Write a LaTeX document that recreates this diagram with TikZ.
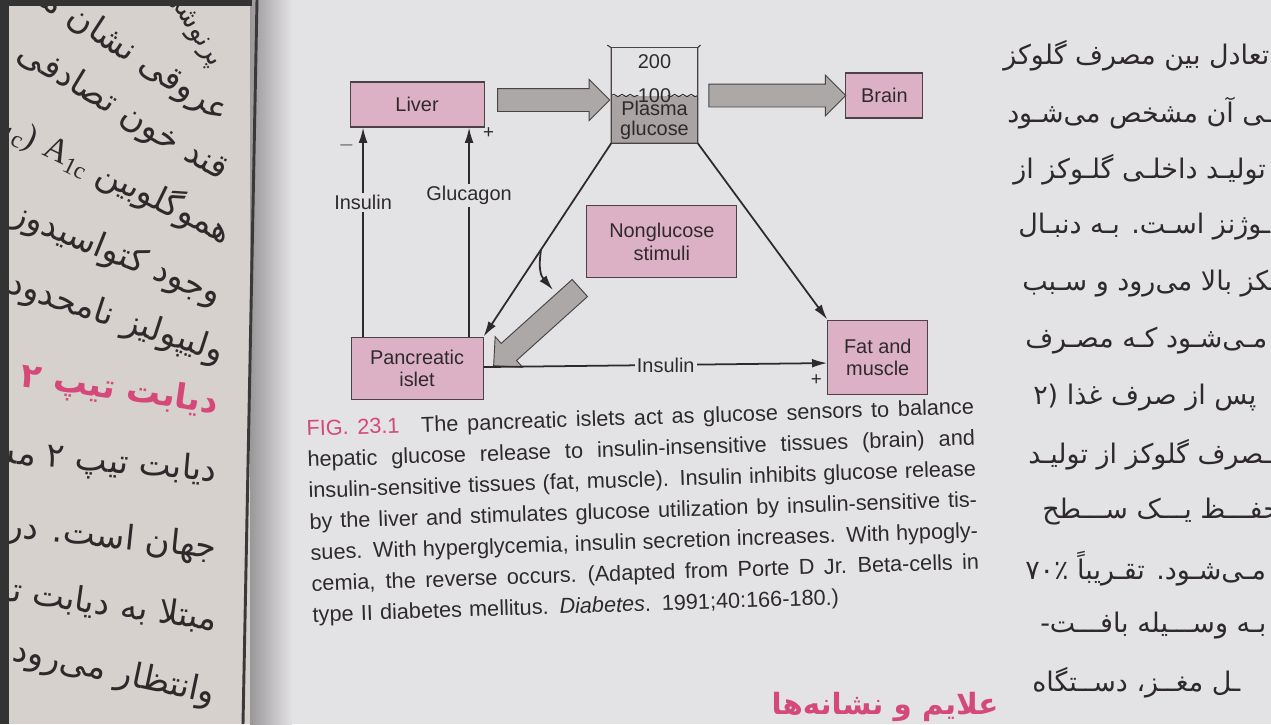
\documentclass[tikz,border=0pt]{standalone}
\usepackage{fontspec}
\setmainfont{Liberation Sans}
\newfontfamily\arabicfont[Script=Arabic]{DejaVu Sans}
\newfontfamily\seriffont{Liberation Serif}
\TeXXeTstate=1
\usetikzlibrary{shapes.arrows,arrows.meta,positioning,calc,decorations.pathmorphing}

\definecolor{pagebg}{HTML}{E3E2E4}
\definecolor{leftpage}{HTML}{D6D1CD}
\definecolor{gutterdark}{HTML}{9A9799}
\definecolor{gutterline}{HTML}{3A3838}
\definecolor{pinkbox}{HTML}{DDB1C5}
\definecolor{boxline}{HTML}{4A4244}
\definecolor{arrowgray}{HTML}{ADA8A8}
\definecolor{liquid}{HTML}{A9A3A3}
\definecolor{ink}{HTML}{2E2A2B}
\definecolor{figpink}{HTML}{D4497A}

% one justified caption line
\newcommand{\figline}[1]{\leavevmode\hbox to 570pt{\spaceskip=0.28em plus 1fil\relax #1}}

\begin{document}
\begin{tikzpicture}[x=0.03cm, y=-0.03cm, font=\fontsize{17}{19}\selectfont, text=ink]
    % Define styles
    \tikzstyle{organ}=[rectangle, draw=boxline, line width=0.9pt, fill=pinkbox, align=center, inner sep=2pt]
    \tikzstyle{line}=[draw=ink, line width=1.5pt, -{Latex[length=13pt,width=7.5pt]}]
    \tikzstyle{flow}=[single arrow, draw=boxline, line width=0.8pt, fill=arrowgray, minimum width=1.2cm, single arrow head extend=0.27cm, single arrow tip angle=90, single arrow head indent=0pt, inner xsep=0pt, inner ysep=0.33cm]
    \tikzstyle{tag}=[fill=pagebg, inner sep=2pt]
    \tikzstyle{sign}=[inner sep=0pt, font=\fontsize{16}{16}\selectfont]
    \tikzstyle{farsi}=[anchor=west, inner sep=0pt, font=\arabicfont\fontsize{23}{23}\selectfont]
    \tikzstyle{oldpage}=[anchor=east, inner sep=0pt, font=\arabicfont\fontsize{29}{29}\selectfont]

    % Pages
    \useasboundingbox (0,0) rectangle (1271,724);
    \clip (0,0) rectangle (1271,724);
    \fill[pagebg] (0,0) rectangle (1271,724);
    \fill[leftpage] (0,0) rectangle (252,724);
    \shade[left color=gutterdark, right color=pagebg] (250,0) rectangle (292,724);
    \draw[gutterline, line width=2.5pt] (257,0) -- (243,724);
    \fill[black!80] (0,0) rectangle (9,724);
    \fill[black!80] (0,0) rectangle (252,6);

    % Left page
    \begin{scope}
        \clip (9,6) rectangle (246,724);
        \node[oldpage, rotate=-58, font=\arabicfont\fontsize{23}{23}\selectfont] (old1) at (216,66) {\beginR پرنوشی\endR};
        \node[oldpage, rotate=-33] (old2) at (226,116) {\beginR عروقی نشان می\endR};
        \node[oldpage, rotate=-31] (old3) at (225,174) {\beginR قند خون تصادفی\endR};
        \node[oldpage, rotate=-26] (old4) at (230,234) {\beginR هموگلوبین \beginL{\seriffont A\textsubscript{1c}}\endL{} \beginL{\seriffont (HbA\textsubscript{1c})}\endL\endR};
        \node[oldpage, rotate=-22] (old5) at (220,297) {\beginR وجود کتواسیدوز نشان\endR};
        \node[oldpage, rotate=-18] (old6) at (223,354) {\beginR ولیپولیز نامحدود است\endR};
        \node[oldpage, rotate=-8, text=figpink, font=\arabicfont\bfseries\fontsize{29}{29}\selectfont] (old7) at (218,405) {\beginR دیابت تیپ ۲\endR};
        \node[oldpage, rotate=-5] (old8) at (217,473) {\beginR دیابت تیپ ۲ مسئول\endR};
        \node[oldpage, rotate=-6] (old9) at (217,550) {\beginR جهان است. در سال\endR};
        \node[oldpage, rotate=-8] (old10) at (217,622) {\beginR مبتلا به دیابت تیپ\endR};
        \node[oldpage, rotate=-12] (old11) at (215,695) {\beginR وانتظار می‌رود ا\endR};
    \end{scope}

    % Diagram nodes
    \node[minimum width=2.58cm, minimum height=2.85cm, inner sep=0pt] (plasma) at (654.5,95.5) {};
    \node[organ, minimum width=4.02cm, minimum height=1.35cm, left=3.8cm of plasma, yshift=-0.27cm] (liver) {Liver};
    \node[organ, minimum width=2.31cm, minimum height=1.35cm, right=4.43cm of plasma] (brain) {Brain};
    \node[organ, minimum width=4.5cm, minimum height=2.16cm, below=1.86cm of plasma, xshift=0.22cm] (nonglucose) {Nonglucose\\stimuli};
    \node[organ, minimum width=3.96cm, minimum height=1.86cm, below=6.27cm of liver] (islet) {Pancreatic\\islet};
    \node[organ, minimum width=3.0cm, minimum height=2.22cm, below=6.03cm of brain, xshift=-0.2cm] (fat) {Fat and\\muscle};

    % Beaker
    \fill[liquid] (plasma.west) rectangle (plasma.south east);
    \draw[ink, line width=0.8pt, decorate, decoration={snake, amplitude=1pt, segment length=7pt}] (plasma.west) -- ++(27,0);
    \draw[ink, line width=0.8pt, decorate, decoration={snake, amplitude=1pt, segment length=7pt}] (plasma.east) -- ++(-30,0);
    \draw[boxline, line width=1pt] ([xshift=-0.12cm, yshift=0.08cm]plasma.north west) -- (plasma.north west) -- (plasma.south west) -- (plasma.south east) -- (plasma.north east) -- ([xshift=0.08cm, yshift=0.08cm]plasma.north east);
    \draw[boxline, line width=1pt] (plasma.north west) -- (plasma.north east);
    \node (scalehigh) at ([yshift=-0.42cm]plasma.north) {200};
    \node[inner sep=0pt] (scalelow) at (plasma.center) {100};
    \node[align=center, font=\fontsize{17}{17}\selectfont] (plasmalabel) at ([yshift=-0.74cm]plasma.center) {Plasma\\glucose};

    % Connections
    \path (liver.east) -- node[flow, minimum height=3.36cm] (hepaticflow) {} (plasma.west);
    \path (plasma.east) -- node[flow, minimum height=4.11cm] (brainflow) {} (brain.west);
    \node[flow, minimum height=3.48cm, rotate=222] (stimflow) at (541,323) {};
    \path[line] ([xshift=-1.62cm]islet.north) -- node[tag, pos=0.64] (insulinup) {Insulin} ([xshift=-1.62cm]liver.south);
    \path[line] ([xshift=1.56cm]islet.north) -- node[tag, pos=0.676] (glucagon) {Glucagon} ([xshift=1.56cm]liver.south);
    \path[line] ([yshift=0.03cm]islet.east) -- node[tag, pos=0.53] (insulinout) {Insulin} ([yshift=-0.18cm]fat.west);
    \path[line] (plasma.south west) -- (islet.north east);
    \path[line] (plasma.south east) -- (fat.north west);
    \coordinate (branch) at ($(plasma.south west)!0.55!(islet.north east)$);
    \coordinate (branchtip) at (553,290);
    \path[line] (branch) .. controls +(-3,20) and +(-12,-14) .. (branchtip);

    % Signs
    \node[sign] (liverminus) at ([xshift=-0.09cm, yshift=-0.54cm]liver.south west) {$-$};
    \node[sign] (liverplus) at ([xshift=0.12cm, yshift=-0.18cm]liver.south east) {+};
    \node[sign] (fatplus) at ([xshift=-0.33cm, yshift=-0.69cm]fat.west) {+};

    % Caption
    \node[anchor=north west, inner sep=0pt, rotate=1.9, text width=570pt, align=left, font=\fontsize{18.5}{26.5}\selectfont] (caption) at (306,420) {%
        \figline{\textcolor{figpink}{FIG. 23.1}\quad The pancreatic islets act as glucose sensors to balance}\\
        \figline{hepatic glucose release to insulin-insensitive tissues (brain) and}\\
        \figline{insulin-sensitive tissues (fat, muscle). Insulin inhibits glucose release}\\
        \figline{by the liver and stimulates glucose utilization by insulin-sensitive tis-}\\
        \figline{sues. With hyperglycemia, insulin secretion increases. With hypogly-}\\
        \figline{cemia, the reverse occurs. (Adapted from Porte D Jr. Beta-cells in}\\
        \leavevmode\hbox{type II diabetes mellitus. \textit{Diabetes}. 1991;40:166-180.)}};

    % Right page
    \node[farsi] (right1) at (1003,56) {\beginR تعادل بین مصرف گلوکز\endR};
    \node[farsi] (right2) at (1007,113) {\beginR ـی آن مشخص می‌شـود\endR};
    \node[farsi] (right3) at (1013,170) {\beginR تولیـد داخلـی گلـوکز از\endR};
    \node[farsi] (right4) at (1018,227) {\beginR ـوژنز اسـت. بـه دنبـال\endR};
    \node[farsi] (right5) at (1022,284) {\beginR ـکز بالا می‌رود و سـبب\endR};
    \node[farsi] (right6) at (1025,341) {\beginR مـی‌شـود کـه مصـرف\endR};
    \node[farsi] (right7) at (1033,398) {\beginR پس از صرف غذا (۲\endR};
    \node[farsi] (right8) at (1028,455) {\beginR ـصرف گلوکز از تولیـد\endR};
    \node[farsi] (right9) at (1042,512) {\beginR حفـــظ یـــک ســـطح\endR};
    \node[farsi] (right10) at (1025,569) {\beginR مـی‌شـود. تقـریباً ۷۰٪\endR};
    \node[farsi] (right11) at (1040,626) {\beginR بـه وســـیله بافـــت-\endR};
    \node[farsi] (right12) at (1032,683) {\beginR ـل مغــز، دســتگاه\endR};
    \node[text=figpink, font=\arabicfont\bfseries\fontsize{25}{25}\selectfont] (heading) at (885,707) {\beginR علایم و نشانه‌ها\endR};
\end{tikzpicture}
\end{document}
